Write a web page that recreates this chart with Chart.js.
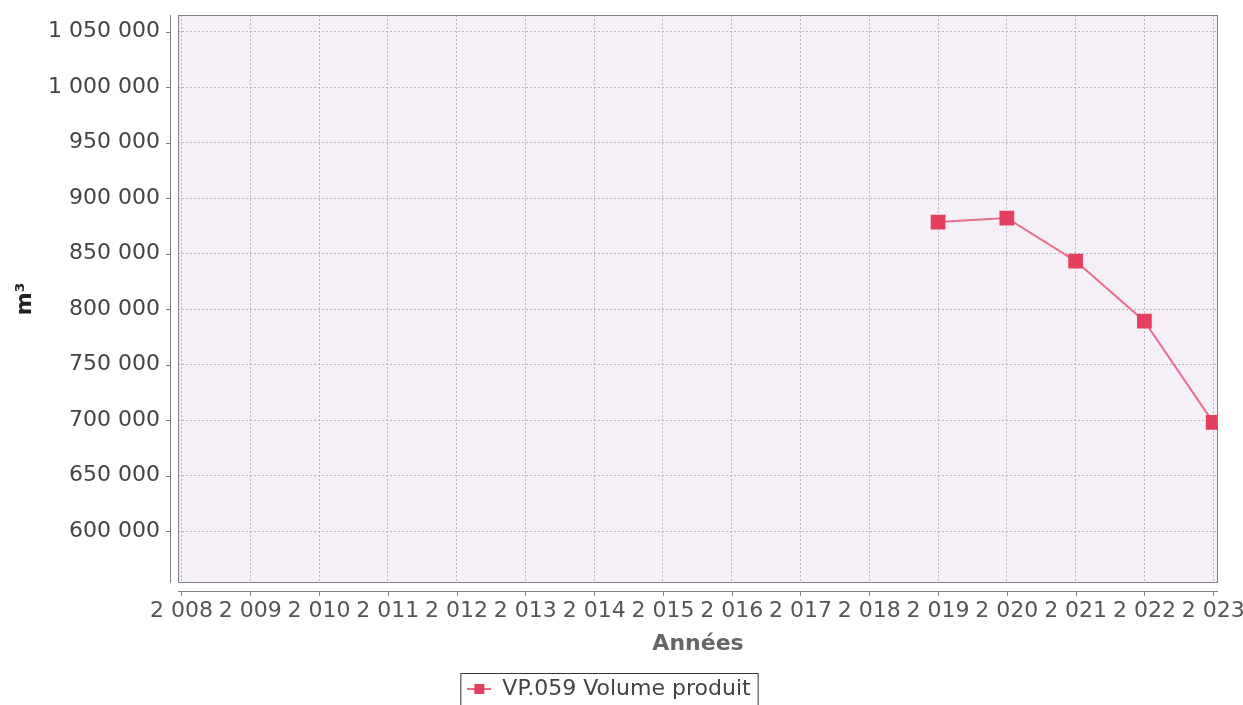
<!DOCTYPE html>
<html>
<head>
<meta charset="utf-8">
<script src="https://cdn.jsdelivr.net/npm/chart.js@4"></script>
<style>
  html, body { margin: 0; padding: 0; background: #fff; }
  #wrap { width: 1243px; height: 705px; }
</style>
</head>
<body>
<div id="wrap"><canvas id="lineChart"></canvas></div>
<script>
// data
const years = [2019, 2020, 2021, 2022, 2023];
const volumes = [878500, 882100, 843300, 789200, 698000];
const seriesLabel = 'VP.059 Volume produit';
const xTitle = 'Années';
const yTitle = 'm³';
const yTicks = [600000, 650000, 700000, 750000, 800000, 850000, 900000, 950000, 1000000, 1050000];
const xTicks = [2008, 2009, 2010, 2011, 2012, 2013, 2014, 2015, 2016, 2017, 2018, 2019, 2020, 2021, 2022, 2023];

function spaced(v) {
  return String(v).replace(/\B(?=(\d{3})+(?!\d))/g, ' ');
}

// little "line + square" marker for the legend
const marker = document.createElement('canvas');
marker.width = 24; marker.height = 12;
(function () {
  const c = marker.getContext('2d');
  c.strokeStyle = '#e8708a'; c.lineWidth = 2;
  c.beginPath(); c.moveTo(0, 6); c.lineTo(24, 6); c.stroke();
  c.fillStyle = '#e3405f'; c.fillRect(7, 1, 10, 10);
})();

const plotFrame = {
  id: 'plotFrame',
  beforeDraw(chart) {
    const a = chart.chartArea, ctx = chart.ctx;
    ctx.save();
    ctx.fillStyle = '#f5eff8';
    ctx.fillRect(a.left, a.top, a.right - a.left, a.bottom - a.top);
    ctx.restore();
  },
  afterDraw(chart) {
    const a = chart.chartArea, ctx = chart.ctx;
    const xs = chart.scales.x, ys = chart.scales.y;
    ctx.save();
    ctx.strokeStyle = '#808080';
    ctx.lineWidth = 1;
    ctx.strokeRect(a.left + 0.5, a.top + 0.5, a.right - a.left - 1, a.bottom - a.top - 1);
    // offset axis lines
    ctx.beginPath();
    ctx.moveTo(a.left - 7.5, a.top); ctx.lineTo(a.left - 7.5, a.bottom);
    ctx.moveTo(a.left, a.bottom + 8.5); ctx.lineTo(a.right, a.bottom + 8.5);
    ys.ticks.forEach(t => {
      const y = Math.round(ys.getPixelForValue(t.value)) + 0.5;
      ctx.moveTo(a.left - 12, y); ctx.lineTo(a.left - 7, y);
    });
    xs.ticks.forEach(t => {
      const x = Math.round(xs.getPixelForValue(t.value)) + 0.5;
      ctx.moveTo(x, a.bottom + 8); ctx.lineTo(x, a.bottom + 13);
    });
    ctx.stroke();
    // legend border
    const hb = chart.legend.legendHitBoxes[0];
    if (hb) {
      ctx.strokeStyle = '#333';
      ctx.strokeRect(hb.left - 6.5, hb.top - 4.5, hb.width + 14, hb.height + 14);
    }
    ctx.restore();
  }
};

new Chart(document.getElementById('lineChart'), {
  type: 'line',
  data: {
    datasets: [{
      label: seriesLabel,
      data: years.map((y, i) => ({ x: y, y: volumes[i] })),
      borderColor: '#e8708a',
      backgroundColor: '#e3405f',
      pointBackgroundColor: '#e3405f',
      pointBorderColor: '#e3405f',
      pointStyle: 'rect',
      pointRadius: 9,
      borderWidth: 2,
      tension: 0,
      fill: false
    }]
  },
  options: {
    responsive: true,
    maintainAspectRatio: false,
    animation: false,
    layout: { padding: { left: 0, right: 25, top: 15, bottom: -5 } },
    font: { family: '"DejaVu Sans", sans-serif' },
    scales: {
      x: {
        type: 'linear',
        min: 2007.95,
        max: 2023.07,
        afterBuildTicks: s => { s.ticks = xTicks.map(v => ({ value: v })); },
        afterFit: s => { s.height = 90; s.paddingLeft = 0; s.paddingRight = 0; },
        ticks: {
          autoSkip: false,
          maxRotation: 0,
          padding: 15,
          color: '#555',
          font: { size: 22, family: '"DejaVu Sans", sans-serif' },
          callback: v => spaced(v)
        },
        grid: { color: '#b8b4bc', drawTicks: false, lineWidth: 1 },
        border: { display: false, dash: [2, 2] },
        title: {
          display: true,
          text: xTitle,
          color: '#666',
          font: { size: 22, weight: 'bold', family: '"DejaVu Sans", sans-serif' },
          padding: { top: 0, bottom: 16 }
        }
      },
      y: {
        min: 553300,
        max: 1065000,
        afterBuildTicks: s => { s.ticks = yTicks.map(v => ({ value: v })); },
        afterFit: s => { s.width = 178; s.paddingTop = 0; s.paddingBottom = 0; },
        ticks: {
          padding: 18,
          color: '#444',
          font: { size: 22, family: '"DejaVu Sans", sans-serif' },
          callback: v => spaced(v)
        },
        grid: { color: '#b8b4bc', drawTicks: false, lineWidth: 1 },
        border: { display: false, dash: [2, 2] },
        title: {
          display: true,
          text: yTitle,
          color: '#222',
          font: { size: 22, weight: 'bold', family: '"DejaVu Sans", sans-serif' },
          padding: { top: 12, bottom: 0 }
        }
      }
    },
    plugins: {
      legend: {
        position: 'bottom',
        labels: {
          usePointStyle: true,
          pointStyle: marker,
          pointStyleWidth: 24,
          padding: 5,
          color: '#444',
          font: { size: 22, family: '"DejaVu Sans", sans-serif' }
        }
      },
      tooltip: { enabled: false }
    }
  },
  plugins: [plotFrame]
});
</script>
</body>
</html>
